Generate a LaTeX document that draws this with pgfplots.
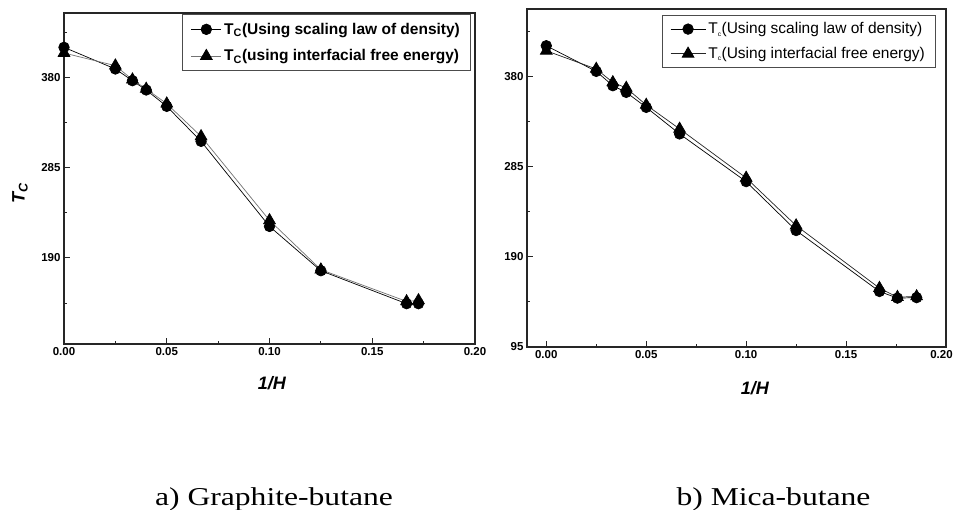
\documentclass[border=0pt]{standalone}
\usepackage{fontspec}
\setmainfont{Liberation Sans}
\newfontfamily\capfont{Liberation Serif}
\usepackage{pgfplots}
\pgfplotsset{compat=1.18}
\pgfplotsset{
  common/.style={
    scale only axis, anchor=south west,
    xmax=0.2,
    xtick={0,0.05,0.1,0.15,0.2},
    minor xtick={0.025,0.075,0.125,0.175},
    minor ytick={142.5,237.5,332.5,427.5},
    tick align=inside, xtick pos=left, ytick pos=left,
    major tick length=6bp, minor tick length=3bp,
    every tick/.style={black!85, line width=1bp},
    axis line style={black!85, line width=1.4bp},
    ticklabel style={font=\fontsize{11.5bp}{13bp}\selectfont\bfseries},
    /pgf/number format/assume math mode=true,
    yticklabel style={/pgf/number format/.cd, fixed, precision=1},
    label style={font=\fontsize{18bp}{20bp}\selectfont\bfseries\itshape},
    legend style={draw=black!70, line width=1bp, font=\fontsize{15.5bp}{18bp}\selectfont,
      inner xsep=8bp, inner ysep=6bp, nodes={inner sep=2.5bp}, anchor=north east},
    legend cell align=left,
  },
  circ/.style={black, line width=0.7bp, mark=*, mark size=5.3bp, mark options={fill=black, draw=black}},
  tri/.style={line width=0.7bp, mark=triangle*, mark size=6.8bp, mark options={fill=black, draw=black}},
}
\begin{document}
\begin{tikzpicture}
\useasboundingbox (0bp,0bp) rectangle (955bp,510bp);
% ---- a) Graphite-butane
\begin{axis}[common,
  at={(64bp,166bp)}, width=411bp, height=331bp,
  xmin=0, ymin=99.5, ymax=447.7,
  ytick={190,285,380},
  xticklabels={0.00,0.05,0.10,0.15,0.20},
  xlabel={1/H}, xlabel style={at={(axis description cs:0.506,-0.119)}, anchor=center},
  ylabel={T\textsubscript{C}}, ylabel style={at={(axis description cs:-0.107,0.456)}, anchor=center},
  legend style={at={(axis description cs:0.990,0.997)}, row sep=9bp, font=\fontsize{15.5bp}{18bp}\selectfont\bfseries},
  legend image code/.code={\draw[mark repeat=2,mark phase=2] plot coordinates {(0bp,0bp) (15bp,0bp) (30bp,0bp)};},
]
\addplot[circ] coordinates {
 (0,411.6) (0.025,388.8) (0.0333,376.5) (0.04,366.7) (0.05,349.5) (0.0667,312.7)
 (0.1,223.2) (0.125,176.6) (0.1667,141.9) (0.1725,141.9)};
\addlegendentry{T\textsubscript{C}(Using scaling law of density)}
\addplot[tri, black!55] coordinates {
 (0,405.6) (0.025,392.3) (0.0333,377.6) (0.04,367.8) (0.05,352.3) (0.0667,317.9)
 (0.1,229.6) (0.125,177.7) (0.1667,144.3) (0.1725,145.4)};
\addlegendentry{T\textsubscript{C}(using interfacial free energy)}
\end{axis}
% ---- b) Mica-butane
\begin{axis}[common,
  at={(527bp,163bp)}, width=419bp, height=338bp,
  xmin=-0.00965, ymin=95, ymax=451,
  ytick={95,190,285,380},
  xticklabels={0.00,0.05,0.10,0.15,{\hspace*{-9bp}0.20}},
  xlabel={1/H}, xlabel style={at={(axis description cs:0.544,-0.121)}, anchor=center},
  legend style={at={(axis description cs:0.976,0.983)}, row sep=7bp, inner ysep=5bp},
  legend image code/.code={\draw[mark repeat=2,mark phase=2] plot coordinates {(0bp,0bp) (17.5bp,0bp) (35bp,0bp)};},
]
\addplot[circ] coordinates {
 (0,412.3) (0.025,385.3) (0.0333,370.2) (0.04,363.2) (0.05,347.4) (0.0667,319.4)
 (0.1,269.2) (0.125,217.7) (0.1667,153.5) (0.1757,146.5) (0.1853,147)};
\addlegendentry{T\textsubscript{\scalebox{0.6}{c}}(Using scaling law of density)}
\addplot[tri, black!85] coordinates {
 (0,407) (0.025,387.8) (0.0333,373.7) (0.04,367.8) (0.05,349.9) (0.0667,324.7)
 (0.1,273.1) (0.125,222.9) (0.1667,157) (0.1757,147.5) (0.1853,148.2)};
\addlegendentry{T\textsubscript{\scalebox{0.6}{c}}(Using interfacial free energy)}
\end{axis}
% captions
\node[anchor=base, xscale=1.23] at (274bp,4.3bp) {\fontsize{25.7bp}{30bp}\selectfont\capfont a) Graphite-butane};
\node[anchor=base, xscale=1.23] at (773.5bp,4.3bp) {\fontsize{25.7bp}{30bp}\selectfont\capfont b) Mica-butane};
\end{tikzpicture}
\end{document}
